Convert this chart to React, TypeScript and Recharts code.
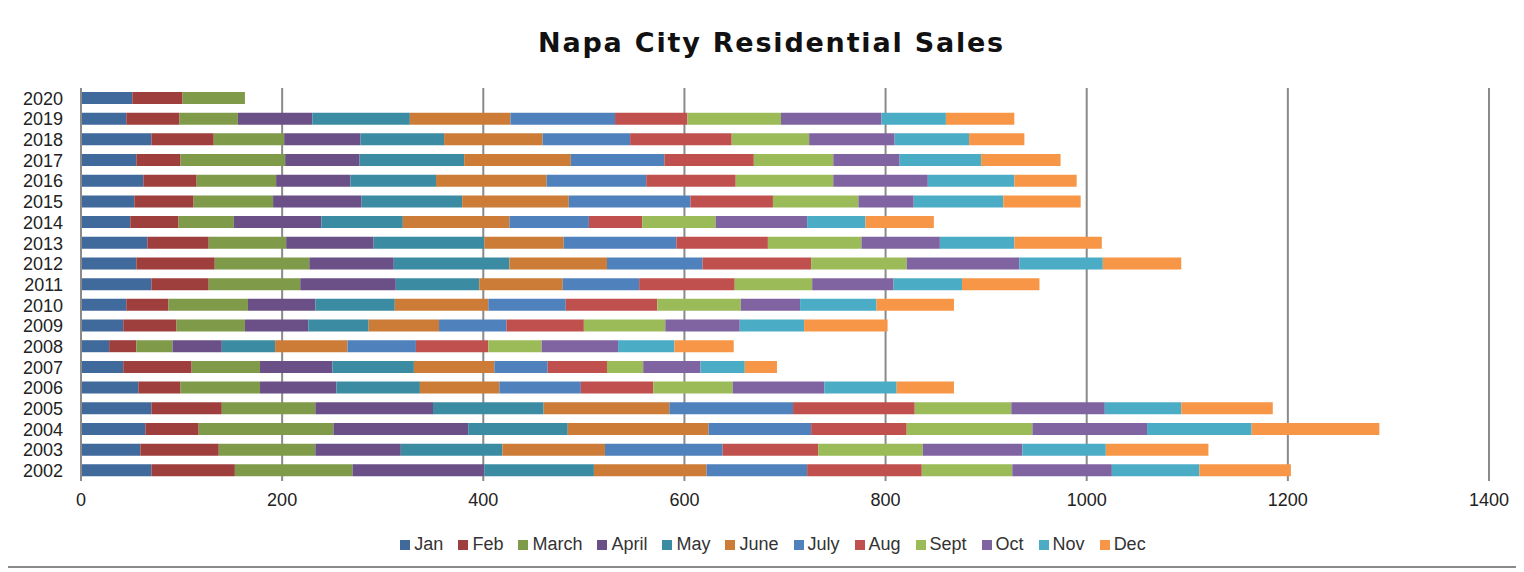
import React from "react";
import { Bar, BarChart, CartesianGrid, Legend, XAxis, YAxis } from "recharts";

const years = [
  "2002", "2003", "2004", "2005", "2006", "2007", "2008", "2009", "2010", "2011",
  "2012", "2013", "2014", "2015", "2016", "2017", "2018", "2019", "2020",
];

const jan = [70, 59, 64, 70, 57, 42, 28, 42, 45, 70, 55, 66, 49, 53, 62, 55, 70, 45, 51];
const feb = [83, 78, 53, 70, 42, 68, 27, 53, 42, 57, 78, 61, 48, 59, 53, 44, 62, 53, 50];
const march = [117, 96, 134, 93, 79, 68, 36, 68, 79, 91, 94, 77, 55, 79, 79, 104, 70, 58, 62];
const april = [131, 85, 134, 117, 76, 72, 49, 63, 67, 95, 84, 87, 87, 88, 74, 74, 76, 74, null];
const may = [109, 101, 99, 110, 83, 81, 53, 60, 79, 83, 115, 110, 81, 100, 85, 104, 83, 97, null];
const june = [112, 102, 140, 125, 79, 80, 72, 70, 93, 83, 97, 79, 106, 106, 110, 106, 98, 100, null];
const july = [100, 117, 102, 123, 81, 53, 68, 67, 77, 76, 95, 112, 79, 121, 99, 93, 87, 104, null];
const aug = [114, 95, 95, 121, 72, 59, 72, 77, 91, 95, 108, 91, 53, 82, 89, 89, 101, 72, null];
const sept = [90, 104, 125, 96, 79, 36, 53, 81, 83, 77, 95, 93, 73, 85, 97, 79, 77, 93, null];
const oct = [99, 99, 114, 93, 91, 57, 76, 74, 59, 81, 112, 78, 91, 55, 94, 66, 85, 100, null];
const nov = [87, 83, 104, 76, 72, 44, 56, 64, 76, 68, 83, 74, 58, 89, 86, 81, 74, 64, null];
const dec = [91, 102, 127, 91, 57, 32, 59, 83, 77, 77, 78, 87, 68, 77, 62, 79, 55, 68, null];

const xTicks = [0, 200, 400, 600, 800, 1000, 1200, 1400];

const series = [
  { key: "Jan", values: jan, color: "#40699C" },
  { key: "Feb", values: feb, color: "#9E3F3D" },
  { key: "March", values: march, color: "#7F9A48" },
  { key: "April", values: april, color: "#6A5087" },
  { key: "May", values: may, color: "#3B8CA3" },
  { key: "June", values: june, color: "#CD7C37" },
  { key: "July", values: july, color: "#4F81BD" },
  { key: "Aug", values: aug, color: "#C0504D" },
  { key: "Sept", values: sept, color: "#9BBB59" },
  { key: "Oct", values: oct, color: "#8064A2" },
  { key: "Nov", values: nov, color: "#4BACC6" },
  { key: "Dec", values: dec, color: "#F79646" },
];

const data = years.map((year, i) => {
  const row: Record<string, any> = { year };
  series.forEach((s) => {
    row[s.key] = s.values[i];
  });
  return row;
});

const font = "'Liberation Sans', Arial, sans-serif";

// legend kept in month order (recharts sorts by name otherwise)
const MonthLegend = () => (
  <div style={{ textAlign: "center", paddingLeft: 59, fontSize: 18, lineHeight: "21px" }}>
    {series.map((s) => (
      <span key={s.key} style={{ display: "inline-block", marginRight: 15 }}>
        <span
          style={{
            display: "inline-block",
            width: 10,
            height: 10,
            background: s.color,
            marginRight: 4,
          }}
        />
        <span style={{ color: "#333" }}>{s.key}</span>
      </span>
    ))}
  </div>
);

export default function App() {
  return (
    <div
      style={{
        position: "relative",
        width: 1509,
        height: 558,
        border: "2px solid #8a8a8a",
        margin: "-2px 0 0 -2px",
        background: "#fff",
        fontFamily: font,
      }}
    >
      <div
        style={{
          position: "absolute",
          top: 21,
          left: 9,
          width: 1509,
          textAlign: "center",
          fontFamily: "'DejaVu Sans', sans-serif",
          fontWeight: "bold",
          fontSize: 27,
          lineHeight: "27px",
          letterSpacing: 1.8,
          color: "#111",
        }}
      >
        Napa City Residential Sales
      </div>
      <BarChart
        width={1509}
        height={558}
        data={data}
        layout="vertical"
        margin={{ top: 80, right: 28, left: 5, bottom: 34 }}
      >
        <CartesianGrid horizontal={false} vertical stroke="#8a8a8a" strokeWidth={2} />
        <XAxis
          type="number"
          domain={[0, 1400]}
          ticks={xTicks}
          axisLine={false}
          tickLine={false}
          tickSize={0}
          tickMargin={12}
          height={30}
          tick={{ fill: "#222", fontSize: 18, fontFamily: font }}
        />
        <YAxis
          type="category"
          dataKey="year"
          reversed
          width={68}
          axisLine={{ stroke: "#8a8a8a", strokeWidth: 2 }}
          tickLine={false}
          tickSize={0}
          tickMargin={18}
          interval={0}
          tick={{ fill: "#222", fontSize: 18, fontFamily: font }}
        />
        <Legend
          verticalAlign="bottom"
          wrapperStyle={{ top: 526, fontFamily: font }}
          content={() => <MonthLegend />}
        />
        {series.map((s) => (
          <Bar
            key={s.key}
            dataKey={s.key}
            name={s.key}
            stackId="sales"
            fill={s.color}
            barSize={12}
            isAnimationActive={false}
          />
        ))}
      </BarChart>
    </div>
  );
}
